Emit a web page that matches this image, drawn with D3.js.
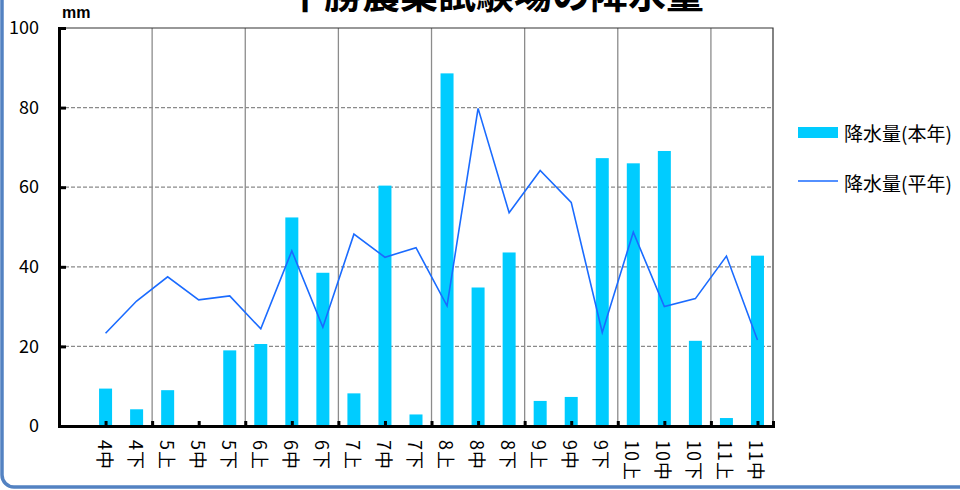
<!DOCTYPE html>
<html>
<head>
<meta charset="utf-8">
<script src="https://cdn.jsdelivr.net/npm/d3@7"></script>
<style>
  html, body { margin: 0; padding: 0; background: #fff; }
  svg { display: block; font-family: "Noto Sans CJK JP", "Noto Sans", sans-serif; }
</style>
</head>
<body>
<div id="chart"></div>
<script>
// 旬ごとの降水量 (mm). 先頭は空の区分
const categories = ["", "4中", "4下", "5上", "5中", "5下", "6上", "6中", "6下", "7上", "7中", "7下",
  "8上", "8中", "8下", "9上", "9中", "9下", "10上", "10中", "10下", "11上", "11中"];
const rainThisYear = [null, 9.4, 4.2, 9.0, 0, 19.0, 20.6, 52.4, 38.5, 8.2, 60.4, 2.9,
  88.6, 34.8, 43.6, 6.3, 7.3, 67.3, 66.0, 69.1, 21.4, 2.0, 42.8];
const rainNormal = [null, 23.3, 31.4, 37.5, 31.7, 32.7, 24.4, 44.0, 24.8, 48.2, 42.4, 44.8,
  30.2, 79.8, 53.6, 64.2, 56.2, 23.5, 48.7, 30.0, 32.0, 42.7, 21.6];
const yTicks = [0, 20, 40, 60, 80, 100];
const seriesNames = ["降水量(本年)", "降水量(平年)"];

const width = 960, height = 490;
const mLeft = 59, mRight = 773, mTop = 28, mBottom = 426;

const svg = d3.select("#chart").append("svg")
  .attr("width", width)
  .attr("height", height);

// outer rounded frame (runs off the top and right)
svg.append("rect")
  .attr("x", 2).attr("y", -30)
  .attr("width", 1000).attr("height", 517)
  .attr("rx", 12)
  .attr("fill", "#fff")
  .attr("stroke", "#5382c2")
  .attr("stroke-width", 3.5);

const x = d3.scaleBand().domain(d3.range(categories.length)).range([mLeft, mRight]).padding(0);
const xi = d3.scaleLinear().domain([0, categories.length]).range([mLeft, mRight]);
const y = d3.scaleLinear().domain([0, 100]).range([mBottom, mTop]);

// horizontal dashed grid
svg.append("g")
  .selectAll("line")
  .data(yTicks.filter(d => d > 0 && d < 100))
  .join("line")
  .attr("x1", mLeft).attr("x2", mRight)
  .attr("y1", d => y(d)).attr("y2", d => y(d))
  .attr("stroke", "#8a8a8a")
  .attr("stroke-width", 1.2)
  .attr("stroke-dasharray", "4,2");

// month dividers
svg.append("g")
  .selectAll("line")
  .data(d3.range(3, categories.length, 3))
  .join("line")
  .attr("x1", d => xi(d)).attr("x2", d => xi(d))
  .attr("y1", mTop).attr("y2", mBottom)
  .attr("stroke", "#8c8c8c")
  .attr("stroke-width", 1.3);

// plot frame top / right
svg.append("path")
  .attr("d", `M${mLeft},${mTop}H${mRight}V${mBottom}`)
  .attr("fill", "none")
  .attr("stroke", "#333")
  .attr("stroke-width", 1.2);

// bars
const barW = 13;
svg.append("g")
  .selectAll("rect")
  .data(rainThisYear.map((v, i) => ({ v, i })).filter(d => d.v))
  .join("rect")
  .attr("x", d => x(d.i) + x.bandwidth() / 2 - barW / 2)
  .attr("y", d => y(d.v))
  .attr("width", barW)
  .attr("height", d => y(0) - y(d.v))
  .attr("fill", "#00ccff");

// normal line
const line = d3.line()
  .defined(d => d.v != null)
  .x(d => x(d.i) + x.bandwidth() / 2)
  .y(d => y(d.v));
svg.append("path")
  .datum(rainNormal.map((v, i) => ({ v, i })))
  .attr("d", line)
  .attr("fill", "none")
  .attr("stroke", "#1a6bff")
  .attr("stroke-width", 1.6);

// y axis
const yAxis = svg.append("g")
  .attr("transform", `translate(${mLeft},0)`)
  .call(d3.axisLeft(y).tickValues(yTicks).tickSize(-7).tickPadding(20));
yAxis.select(".domain").attr("stroke", "#000").attr("stroke-width", 3);
yAxis.selectAll(".tick line").attr("stroke", "#000").attr("stroke-width", 3);
yAxis.selectAll(".tick text")
  .attr("x", -20)
  .attr("font-size", 18)
  .attr("font-family", "Noto Sans CJK JP")
  .attr("fill", "#000");

// x axis (ticks every 1.5 bands)
const xAxis = svg.append("g")
  .attr("transform", `translate(0,${mBottom})`)
  .call(d3.axisBottom(xi).tickValues(d3.range(1.5, categories.length, 1.5)).tickSize(-5).tickFormat(""));
xAxis.select(".domain").attr("stroke", "#000").attr("stroke-width", 3);
xAxis.selectAll(".tick line").attr("stroke", "#000").attr("stroke-width", 3);

// category labels, rotated
svg.append("g")
  .selectAll("text")
  .data(categories.map((c, i) => ({ c, i })).filter(d => d.c))
  .join("text")
  .attr("transform", d => `translate(${x(d.i) + x.bandwidth() / 2},${mBottom + 14}) rotate(90)`)
  .attr("dominant-baseline", "central")
  .attr("font-size", 18)
  .attr("letter-spacing", 1)
  .attr("fill", "#000")
  .text(d => d.c);

// unit
svg.append("text")
  .attr("x", 62).attr("y", 18)
  .attr("font-size", 16)
  .attr("font-weight", "bold")
  .attr("font-family", "Liberation Sans, Arial, sans-serif")
  .text("mm");

// title (clipped at top, as in the source)
svg.append("text")
  .attr("x", 495).attr("y", 8)
  .attr("text-anchor", "middle")
  .attr("font-size", 38)
  .attr("font-weight", "bold")
  .text("十勝農業試験場の降水量");

// legend
const lg = svg.append("g");
lg.append("rect")
  .attr("x", 798).attr("y", 127)
  .attr("width", 40).attr("height", 11)
  .attr("fill", "#00ccff");
lg.append("line")
  .attr("x1", 798).attr("x2", 838)
  .attr("y1", 181).attr("y2", 181)
  .attr("stroke", "#1a6bff")
  .attr("stroke-width", 1.6);
lg.selectAll("text")
  .data(seriesNames)
  .join("text")
  .attr("x", 844)
  .attr("y", (d, i) => 132 + i * 50)
  .attr("dominant-baseline", "central")
  .attr("font-size", 19)
  .attr("fill", "#000")
  .text(d => d);
</script>
</body>
</html>
